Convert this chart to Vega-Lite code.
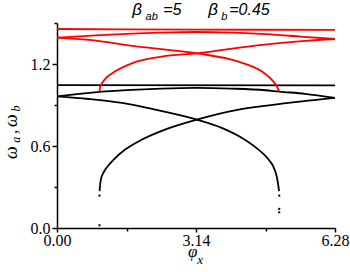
{
  "$schema": "https://vega.github.io/schema/vega-lite/v6.json",
  "width": 278,
  "height": 205,
  "autosize": {"type": "none"},
  "padding": {"left": 57, "top": 23, "right": 15, "bottom": 44},
  "background": "white",
  "config": {
    "view": {"stroke": null},
    "axis": {
      "grid": false,
      "domainColor": "black",
      "domainWidth": 1.5,
      "tickColor": "black",
      "tickWidth": 1.5,
      "labelColor": "black",
      "labelFont": "Liberation Serif",
      "labelFontSize": 16,
      "labelFlush": false,
      "labelOverlap": false
    }
  },
  "data": {
    "values": [
      {"c": "bf", "g": "lower", "phi": 0, "omega": 1.046},
      {"c": "bf", "g": "lower", "phi": 6.28, "omega": 1.044},

      {"c": "bd", "g": "lower", "phi": 0, "omega": 0.963},
      {"c": "bd", "g": "lower", "phi": 0.5, "omega": 0.982},
      {"c": "bd", "g": "lower", "phi": 0.96, "omega": 0.996},
      {"c": "bd", "g": "lower", "phi": 1.57, "omega": 1.009},
      {"c": "bd", "g": "lower", "phi": 2.36, "omega": 1.02},
      {"c": "bd", "g": "lower", "phi": 3.14, "omega": 1.025},
      {"c": "bd", "g": "lower", "phi": 3.93, "omega": 1.02},
      {"c": "bd", "g": "lower", "phi": 4.71, "omega": 1.008},
      {"c": "bd", "g": "lower", "phi": 5.02, "omega": 0.998},
      {"c": "bd", "g": "lower", "phi": 5.6, "omega": 0.982},
      {"c": "bd", "g": "lower", "phi": 6.28, "omega": 0.952},

      {"c": "br", "g": "lower", "phi": 0, "omega": 0.963},
      {"c": "br", "g": "lower", "phi": 0.714, "omega": 0.944},
      {"c": "br", "g": "lower", "phi": 1.467, "omega": 0.915},
      {"c": "br", "g": "lower", "phi": 2.219, "omega": 0.866},
      {"c": "br", "g": "lower", "phi": 3.16, "omega": 0.793},
      {"c": "br", "g": "lower", "phi": 3.72, "omega": 0.733},
      {"c": "br", "g": "lower", "phi": 4.18, "omega": 0.659},
      {"c": "br", "g": "lower", "phi": 4.55, "omega": 0.574},
      {"c": "br", "g": "lower", "phi": 4.78, "omega": 0.501},
      {"c": "br", "g": "lower", "phi": 4.93, "omega": 0.416},
      {"c": "br", "g": "lower", "phi": 4.975, "omega": 0.36},
      {"c": "br", "g": "lower", "phi": 5.0, "omega": 0.31},
      {"c": "br", "g": "lower", "phi": 5.015, "omega": 0.27},

      {"c": "bl", "g": "lower", "phi": 0.962, "omega": 0.27},
      {"c": "bl", "g": "lower", "phi": 0.975, "omega": 0.32},
      {"c": "bl", "g": "lower", "phi": 0.995, "omega": 0.36},
      {"c": "bl", "g": "lower", "phi": 1.04, "omega": 0.4},
      {"c": "bl", "g": "lower", "phi": 1.09, "omega": 0.428},
      {"c": "bl", "g": "lower", "phi": 1.18, "omega": 0.465},
      {"c": "bl", "g": "lower", "phi": 1.28, "omega": 0.501},
      {"c": "bl", "g": "lower", "phi": 1.54, "omega": 0.574},
      {"c": "bl", "g": "lower", "phi": 1.92, "omega": 0.647},
      {"c": "bl", "g": "lower", "phi": 2.44, "omega": 0.72},
      {"c": "bl", "g": "lower", "phi": 3.16, "omega": 0.793},
      {"c": "bl", "g": "lower", "phi": 4.1, "omega": 0.866},
      {"c": "bl", "g": "lower", "phi": 5.23, "omega": 0.915},
      {"c": "bl", "g": "lower", "phi": 6.28, "omega": 0.952},

      {"c": "dots", "g": "lower", "phi": 0.96, "omega": 0.02},
      {"c": "dots", "g": "lower", "phi": 0.96, "omega": 0.237},
      {"c": "dots", "g": "lower", "phi": 5.02, "omega": 0.237},
      {"c": "dots", "g": "lower", "phi": 5.02, "omega": 0.14},
      {"c": "dots", "g": "lower", "phi": 5.02, "omega": 0.115},

      {"c": "rf", "g": "upper", "phi": 0, "omega": 1.456},
      {"c": "rf", "g": "upper", "phi": 3.14, "omega": 1.452},
      {"c": "rf", "g": "upper", "phi": 6.28, "omega": 1.449},

      {"c": "rd", "g": "upper", "phi": 0, "omega": 1.393},
      {"c": "rd", "g": "upper", "phi": 0.785, "omega": 1.408},
      {"c": "rd", "g": "upper", "phi": 1.57, "omega": 1.421},
      {"c": "rd", "g": "upper", "phi": 2.36, "omega": 1.43},
      {"c": "rd", "g": "upper", "phi": 3.14, "omega": 1.434},
      {"c": "rd", "g": "upper", "phi": 3.93, "omega": 1.43},
      {"c": "rd", "g": "upper", "phi": 4.71, "omega": 1.418},
      {"c": "rd", "g": "upper", "phi": 5.5, "omega": 1.401},
      {"c": "rd", "g": "upper", "phi": 6.28, "omega": 1.383},

      {"c": "rr", "g": "upper", "phi": 0, "omega": 1.393},
      {"c": "rr", "g": "upper", "phi": 0.714, "omega": 1.376},
      {"c": "rr", "g": "upper", "phi": 1.84, "omega": 1.327},
      {"c": "rr", "g": "upper", "phi": 3.16, "omega": 1.278},
      {"c": "rr", "g": "upper", "phi": 4.1, "omega": 1.217},
      {"c": "rr", "g": "upper", "phi": 4.63, "omega": 1.145},
      {"c": "rr", "g": "upper", "phi": 4.89, "omega": 1.071},
      {"c": "rr", "g": "upper", "phi": 4.97, "omega": 1.035},
      {"c": "rr", "g": "upper", "phi": 5.0, "omega": 1.015},
      {"c": "rr", "g": "upper", "phi": 5.02, "omega": 0.998},

      {"c": "rl", "g": "upper", "phi": 0.96, "omega": 0.998},
      {"c": "rl", "g": "upper", "phi": 0.975, "omega": 1.035},
      {"c": "rl", "g": "upper", "phi": 1.015, "omega": 1.059},
      {"c": "rl", "g": "upper", "phi": 1.1, "omega": 1.095},
      {"c": "rl", "g": "upper", "phi": 1.24, "omega": 1.131},
      {"c": "rl", "g": "upper", "phi": 1.69, "omega": 1.205},
      {"c": "rl", "g": "upper", "phi": 2.37, "omega": 1.254},
      {"c": "rl", "g": "upper", "phi": 3.16, "omega": 1.278},
      {"c": "rl", "g": "upper", "phi": 4.48, "omega": 1.335},
      {"c": "rl", "g": "upper", "phi": 5.61, "omega": 1.369},
      {"c": "rl", "g": "upper", "phi": 6.28, "omega": 1.383}
    ]
  },
  "layer": [
    {
      "transform": [{"filter": "datum.c != 'dots'"}],
      "mark": {"type": "line", "interpolate": "monotone", "strokeWidth": 1.8},
      "encoding": {
        "x": {
          "field": "phi", "type": "quantitative",
          "scale": {"domain": [0, 6.28], "nice": false, "zero": false},
          "axis": {
            "title": null,
            "values": [0, 1.57, 3.14, 4.71, 6.28],
            "labelExpr": "(datum.value == 1.57 || datum.value == 4.71) ? '' : format(datum.value, '.2f')",
            "tickSize": {"condition": {"test": "datum.value == 1.57 || datum.value == 4.71", "value": 3}, "value": 4},
            "labelPadding": 0,
            "labelFont": "Liberation Serif",
            "labelFontSize": 16
          }
        },
        "y": {
          "field": "omega", "type": "quantitative",
          "scale": {"domain": [0, 1.5], "nice": false},
          "axis": {
            "title": null,
            "values": [0, 0.3, 0.6, 0.9, 1.2, 1.5],
            "labelExpr": "(datum.value == 0.3 || datum.value == 0.9 || datum.value == 1.5) ? '' : format(datum.value, '.1f')",
            "tickSize": {"condition": {"test": "datum.value == 0.3 || datum.value == 0.9 || datum.value == 1.5", "value": 3}, "value": 5},
            "labelPadding": 2,
            "labelFont": "Liberation Serif",
            "labelFontSize": 16
          }
        },
        "color": {"field": "g", "type": "nominal", "scale": {"domain": ["lower", "upper"], "range": ["#000000", "#ff0000"]}, "legend": null},
        "detail": {"field": "c"}
      }
    },
    {
      "transform": [{"filter": "datum.c == 'dots'"}],
      "mark": {"type": "square", "size": 4, "color": "black", "opacity": 1},
      "encoding": {
        "x": {"field": "phi", "type": "quantitative"},
        "y": {"field": "omega", "type": "quantitative"}
      }
    },
    {
      "data": {"values": [{}]},
      "mark": {"type": "text", "font": "Liberation Sans", "fontStyle": "italic", "fontSize": 17, "align": "left", "baseline": "alphabetic", "color": "black"},
      "encoding": {"x": {"datum": 1.7, "type": "quantitative"}, "y": {"datum": 1.555, "type": "quantitative"}, "text": {"value": "β"}}
    },
    {
      "data": {"values": [{}]},
      "mark": {"type": "text", "font": "Liberation Sans", "fontStyle": "italic", "fontSize": 11, "align": "left", "baseline": "alphabetic", "color": "black"},
      "encoding": {"x": {"datum": 2.0, "type": "quantitative"}, "y": {"datum": 1.522, "type": "quantitative"}, "text": {"value": "ab"}}
    },
    {
      "data": {"values": [{}]},
      "mark": {"type": "text", "font": "Liberation Sans", "fontStyle": "italic", "fontSize": 16, "align": "left", "baseline": "alphabetic", "color": "black"},
      "encoding": {"x": {"datum": 2.4, "type": "quantitative"}, "y": {"datum": 1.555, "type": "quantitative"}, "text": {"value": "=5"}}
    },
    {
      "data": {"values": [{}]},
      "mark": {"type": "text", "font": "Liberation Sans", "fontStyle": "italic", "fontSize": 17, "align": "left", "baseline": "alphabetic", "color": "black"},
      "encoding": {"x": {"datum": 3.415, "type": "quantitative"}, "y": {"datum": 1.555, "type": "quantitative"}, "text": {"value": "β"}}
    },
    {
      "data": {"values": [{}]},
      "mark": {"type": "text", "font": "Liberation Sans", "fontStyle": "italic", "fontSize": 11, "align": "left", "baseline": "alphabetic", "color": "black"},
      "encoding": {"x": {"datum": 3.71, "type": "quantitative"}, "y": {"datum": 1.522, "type": "quantitative"}, "text": {"value": "b"}}
    },
    {
      "data": {"values": [{}]},
      "mark": {"type": "text", "font": "Liberation Sans", "fontStyle": "italic", "fontSize": 16, "align": "left", "baseline": "alphabetic", "color": "black"},
      "encoding": {"x": {"datum": 3.89, "type": "quantitative"}, "y": {"datum": 1.555, "type": "quantitative"}, "text": {"value": "=0.45"}}
    },
    {
      "data": {"values": [{}]},
      "mark": {"type": "text", "font": "Liberation Serif", "fontStyle": "italic", "fontSize": 17, "align": "center", "baseline": "alphabetic", "color": "black"},
      "encoding": {"x": {"datum": 3.065, "type": "quantitative"}, "y": {"datum": -0.215, "type": "quantitative"}, "text": {"value": "φ"}}
    },
    {
      "data": {"values": [{}]},
      "mark": {"type": "text", "font": "Liberation Serif", "fontStyle": "italic", "fontSize": 13, "align": "left", "baseline": "alphabetic", "color": "black"},
      "encoding": {"x": {"datum": 3.17, "type": "quantitative"}, "y": {"datum": -0.267, "type": "quantitative"}, "text": {"value": "x"}}
    },
    {
      "data": {"values": [{}]},
      "mark": {"type": "text", "font": "Liberation Serif", "fontStyle": "italic", "fontSize": 18, "align": "center", "baseline": "alphabetic", "angle": 270, "color": "black"},
      "encoding": {"x": {"datum": -0.9, "type": "quantitative"}, "y": {"datum": 0.552, "type": "quantitative"}, "text": {"value": "ω"}}
    },
    {
      "data": {"values": [{}]},
      "mark": {"type": "text", "font": "Liberation Serif", "fontStyle": "italic", "fontSize": 12, "align": "center", "baseline": "alphabetic", "angle": 270, "color": "black"},
      "encoding": {"x": {"datum": -0.835, "type": "quantitative"}, "y": {"datum": 0.645, "type": "quantitative"}, "text": {"value": "a"}}
    },
    {
      "data": {"values": [{}]},
      "mark": {"type": "text", "font": "Liberation Serif", "fontStyle": "italic", "fontSize": 18, "align": "center", "baseline": "alphabetic", "angle": 270, "color": "black"},
      "encoding": {"x": {"datum": -0.9, "type": "quantitative"}, "y": {"datum": 0.705, "type": "quantitative"}, "text": {"value": ","}}
    },
    {
      "data": {"values": [{}]},
      "mark": {"type": "text", "font": "Liberation Serif", "fontStyle": "italic", "fontSize": 18, "align": "center", "baseline": "alphabetic", "angle": 270, "color": "black"},
      "encoding": {"x": {"datum": -0.9, "type": "quantitative"}, "y": {"datum": 0.786, "type": "quantitative"}, "text": {"value": "ω"}}
    },
    {
      "data": {"values": [{}]},
      "mark": {"type": "text", "font": "Liberation Serif", "fontStyle": "italic", "fontSize": 12, "align": "center", "baseline": "alphabetic", "angle": 270, "color": "black"},
      "encoding": {"x": {"datum": -0.835, "type": "quantitative"}, "y": {"datum": 0.874, "type": "quantitative"}, "text": {"value": "b"}}
    }
  ]
}
